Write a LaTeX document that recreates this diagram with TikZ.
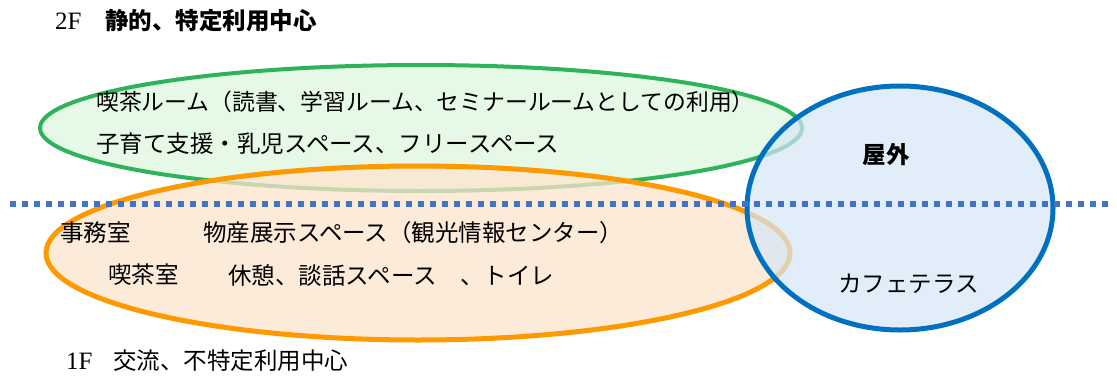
\documentclass[tikz,border=0pt]{standalone}
\usepackage{fontspec}
\setmainfont{Liberation Serif}
\newfontfamily\jp{Noto Sans CJK JP}
\definecolor{grnline}{HTML}{2DB35A}
\definecolor{grnfill}{HTML}{E6F8E6}
\definecolor{orgline}{HTML}{FF9900}
\definecolor{orgfill}{HTML}{FDE4CE}
\definecolor{bluline}{HTML}{0070C0}
\definecolor{blufill}{HTML}{D6E6F8}
\definecolor{dotblue}{HTML}{4472C4}
\tikzset{
  lbl/.style={anchor=west,inner sep=0pt,font=\jp\fontsize{23.5}{26}\selectfont},
  head/.style={anchor=west,inner sep=0pt,font=\jp\fontsize{23.5}{26}\selectfont},
  flr/.style={anchor=west,inner sep=0pt,font=\rmfamily\fontsize{25}{28}\selectfont},
}
\begin{document}
\begin{tikzpicture}[x=1pt,y=-1pt]
\useasboundingbox (0,0) rectangle (1117,378);
% green ellipse (2F)
\draw[line width=4pt,draw=grnline,fill=grnfill] (421,128) ellipse [x radius=381,y radius=63];
% orange ellipse (1F)
\draw[line width=5pt,draw=orgline,fill=orgfill,fill opacity=0.75] (418,253) ellipse [x radius=372,y radius=87];
% blue circle (outdoor)
\draw[line width=5pt,draw=bluline,fill=blufill,fill opacity=0.7] (900,208) ellipse [x radius=153,y radius=122];
% dotted divider
\draw[line width=6pt,draw=dotblue,dash pattern=on 6pt off 6pt] (10,204) -- (1112,204);
% texts
\node[flr] (t2f) at (55,21) {2F};
\node[head] (t2ft) at (105,21) {\textbf{静的、特定利用中心}};
\node[lbl,font=\jp\fontsize{22.8}{26}\selectfont] (g1) at (96,102) {喫茶ルーム（読書、学習ルーム、セミナールームとしての利用）};
\node[lbl] (g2) at (96,144) {子育て支援・乳児スペース、フリースペース};
\node[lbl] (o1a) at (60,233) {事務室};
\node[lbl] (o1b) at (203,233) {物産展示スペース（観光情報センター）};
\node[lbl] (o2a) at (108,275) {喫茶室};
\node[lbl] (o2b) at (228,275) {休憩、談話スペース　、トイレ};
\node[lbl,anchor=center,font=\jp\bfseries\fontsize{23.5}{26}\selectfont] (out) at (886,155) {屋外};
\node[lbl] (cafe) at (838,284) {カフェテラス};
\node[flr] (t1f) at (66,361) {1F};
\node[head] (t1ft) at (113,361) {交流、不特定利用中心};
\end{tikzpicture}
\end{document}
